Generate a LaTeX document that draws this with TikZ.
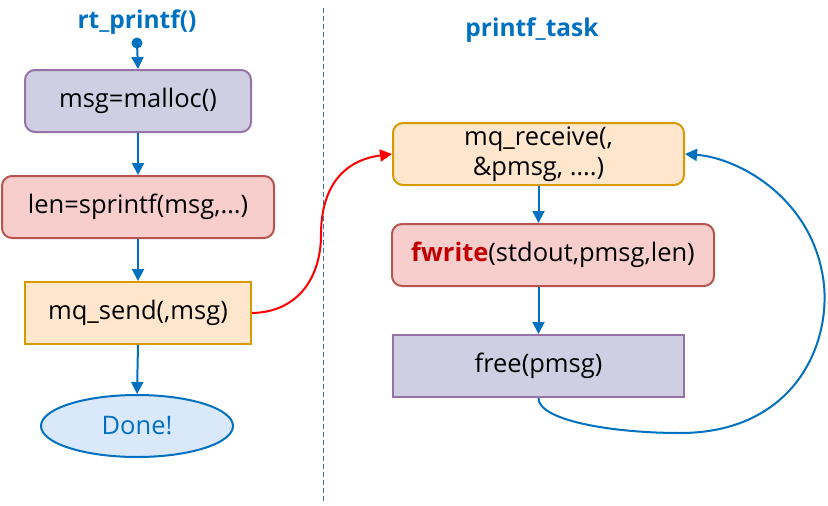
\documentclass[tikz,border=0pt]{standalone}
\usepackage{fontspec}
\setmainfont{Open Sans}
\usetikzlibrary{arrows.meta,shapes.geometric}
\definecolor{cblue}{RGB}{0,112,192}
\definecolor{pfill}{RGB}{208,206,226}
\definecolor{pline}{RGB}{150,115,166}
\definecolor{rfill}{RGB}{248,206,204}
\definecolor{rline}{RGB}{184,84,80}
\definecolor{ofill}{RGB}{255,230,204}
\definecolor{oline}{RGB}{215,155,0}
\definecolor{efill}{RGB}{218,232,252}
\definecolor{dred}{RGB}{192,0,0}
\begin{document}
\begin{tikzpicture}[x=1pt,y=-1pt,
  box/.style={draw, line width=2pt, minimum height=62pt, inner sep=0pt,
     font=\fontsize{25.5}{30}\selectfont, align=center, anchor=north west},
  purplebox/.style={box, fill=pfill, draw=pline},
  redbox/.style={box, fill=rfill, draw=rline},
  orangebox/.style={box, fill=ofill, draw=oline},
  rbox/.style={rounded corners=10pt},
  title/.style={font=\fontsize{24.5}{28}\selectfont\bfseries, text=cblue},
  flow/.style={draw=cblue, line width=2pt, -{Triangle[length=12pt,width=12pt]}}]
\useasboundingbox (0,0) rectangle (828,506);
\draw[cblue!60!gray, dashed, dash pattern=on 5pt off 3pt, line width=1pt] (323,8) -- (323,503);
% left column
\node[title] (t1) at (137,22) {rt\_printf()};
\coordinate (dot) at (137,43);
\fill[cblue] (dot) circle (5.5pt);
\node[purplebox, rbox, minimum width=226pt] (m1) at (24,69) {msg=malloc()};
\node[redbox, rbox, minimum width=272pt] (m2) at (1,175) {len=sprintf(msg,…)};
\node[orangebox, minimum width=226pt] (m3) at (24,281) {mq\_send(,msg)};
\node[ellipse, draw=cblue, fill=efill, line width=2pt, minimum width=192pt, minimum height=62pt,
  inner sep=0pt, text=cblue, font=\fontsize{25.5}{28}\selectfont] (done) at (137,426) {Done!};
\draw[flow] (dot) -- (m1.north);
\draw[flow] (m1.south) -- (m2.north);
\draw[flow] (m2.south) -- (m3.north);
\draw[flow] (m3.south) -- (done.north);
% right column
\node[title] (t2) at (532,30) {printf\_task};
\node[orangebox, rbox, minimum width=291pt] (r1) at (392,122) {mq\_receive(,\\\&pmsg, ….)};
\node[redbox, rbox, minimum width=322pt] (r2) at (391,223) {\textcolor{dred}{\bfseries fwrite}(stdout,pmsg,len)};
\node[purplebox, minimum width=291pt] (r3) at (392,334) {free(pmsg)};
\draw[flow] (r1.south) -- (r1.south |- r2.north);
\draw[flow] (r1.south |- r2.south) -- (r3.north);
% red curve
\draw[red, line width=2pt, -{Triangle[length=12pt,width=12pt]}]
  (m3.east) .. controls (300,312) and (321,275) .. (321,235)
  .. controls (321,185) and (345,160) .. (r1.west);
% blue loop
\draw[flow]
  (r3.south) .. controls (538,420) and (610,433) .. (680,433)
  .. controls (790,433) and (830,350) .. (824,285)
  .. controls (815,200) and (740,158) .. (r1.east);
\end{tikzpicture}
\end{document}
